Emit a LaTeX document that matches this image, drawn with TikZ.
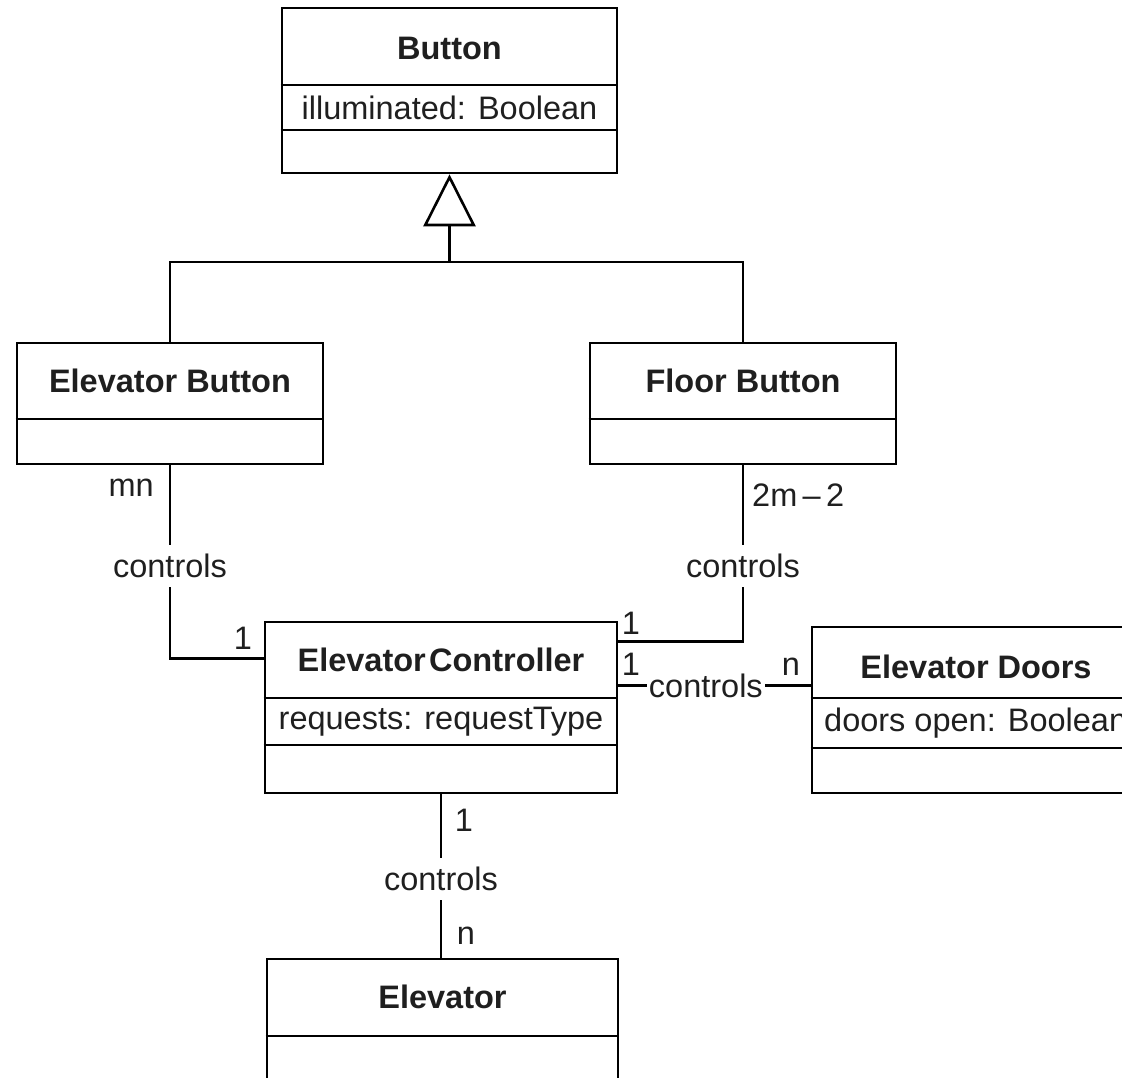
\documentclass[tikz,border=0pt]{standalone}
\usepackage{fontspec}
\setmainfont{Liberation Sans}
\usetikzlibrary{arrows.meta,calc}

\begin{document}
\begin{tikzpicture}[x=1pt,y=-1pt,
  every node/.style={font=\fontsize{32.5}{38}\selectfont, text=black!88},
  cls/.style={draw, line width=2.6pt, inner sep=0pt},
  sep/.style={line width=2.6pt},
  conn/.style={line width=2.6pt},
  cname/.style={font=\fontsize{32.5}{38}\selectfont\bfseries},
  attr/.style={inner sep=0pt},
  lbl/.style={fill=white, inner xsep=2pt, inner ysep=9pt},
  hlbl/.style={fill=white, inner xsep=2pt, inner ysep=2pt},
  mult/.style={inner sep=0pt}
]
\useasboundingbox (0,0) rectangle (1122,1078);
\clip (0,0) rectangle (1122,1078);

% ---- classes ----
\node[cls, minimum width=335pt, minimum height=165pt] (button) at (449.5,90.5) {};
\draw[sep] (button.west |- 0,85) -- (button.east |- 0,85);
\draw[sep] (button.west |- 0,130) -- (button.east |- 0,130);
\node[cname] (buttonN) at (449.5,48) {Button};
\node[attr] (buttonA) at (449.5,108) {illuminated: Boolean};

\node[cls, minimum width=306pt, minimum height=121pt] (eb) at (170,403.5) {};
\draw[sep] (eb.west |- 0,419) -- (eb.east |- 0,419);
\node[cname] (ebN) at (170,381) {Elevator Button};

\node[cls, minimum width=306pt, minimum height=121pt] (fb) at (743,403.5) {};
\draw[sep] (fb.west |- 0,419) -- (fb.east |- 0,419);
\node[cname] (fbN) at (743,381) {Floor Button};

\node[cls, minimum width=352pt, minimum height=171pt] (ctrl) at (441,707.5) {};
\draw[sep] (ctrl.west |- 0,698) -- (ctrl.east |- 0,698);
\draw[sep] (ctrl.west |- 0,745) -- (ctrl.east |- 0,745);
\node[cname] (ctrlN) at (441,660) {Elevator\hspace{0.1em}Controller};
\node[attr] (ctrlA) at (441,722) {requests: requestType};

\node[cls, minimum width=360pt, minimum height=166pt] (doors) at (992,710) {};
\draw[sep] (doors.west |- 0,698) -- (doors.east |- 0,698);
\draw[sep] (doors.west |- 0,748) -- (doors.east |- 0,748);
\node[cname] (doorsN) at (976,667) {Elevator Doors};
\node[attr, anchor=west] (doorsA) at (824,723) {doors open: Boolean};

\node[cls, minimum width=351pt, minimum height=160pt] (elev) at (442.5,1039) {};
\draw[sep] (elev.west |- 0,1036) -- (elev.east |- 0,1036);
\node[cname] (elevN) at (442.5,997) {Elevator};

% ---- generalization ----
\coordinate (gen) at (449.5,262);
\draw[conn, -{Triangle[open, length=52pt, width=52pt, line width=2.6pt]}] (gen) -- (button.south);
\draw[conn] (eb.north) |- (gen) -| (fb.north);

% ---- associations ----
\coordinate (ctrlL) at ($(ctrl.north west)+(0,38)$);
\coordinate (ctrlR1) at ($(ctrl.north east)+(0,21)$);

\draw[conn] (eb.south) |- node[lbl, pos=0.26] (c1) {controls} (ctrlL);
\node[mult, anchor=east] (m1a) at (154,488) {mn};
\node[mult] (m1b) at (243,638) {1};

\draw[conn] (fb.south) |- node[lbl, pos=0.285] (c2) {controls} (ctrlR1);
\node[mult, anchor=west] (m2a) at (752,495) {2m\,–\,2};
\node[mult] (m2b) at (631,623) {1};

\coordinate (dA) at ($(ctrl.north east)+(0,65)$);
\coordinate (dB) at (doors.west |- dA);
\draw[conn] (dA) -- node[hlbl, pos=0.455] (c3) {controls} (dB);
\node[mult] (m3a) at (631,664) {1};
\node[mult] (m3b) at (791,667) {n};

\draw[conn] (ctrl.south) -- node[lbl, pos=0.52] (c4) {controls} (ctrl.south |- elev.north);
\node[mult] (m4a) at (464,820) {1};
\node[mult] (m4b) at (466,936) {n};
\end{tikzpicture}
\end{document}
